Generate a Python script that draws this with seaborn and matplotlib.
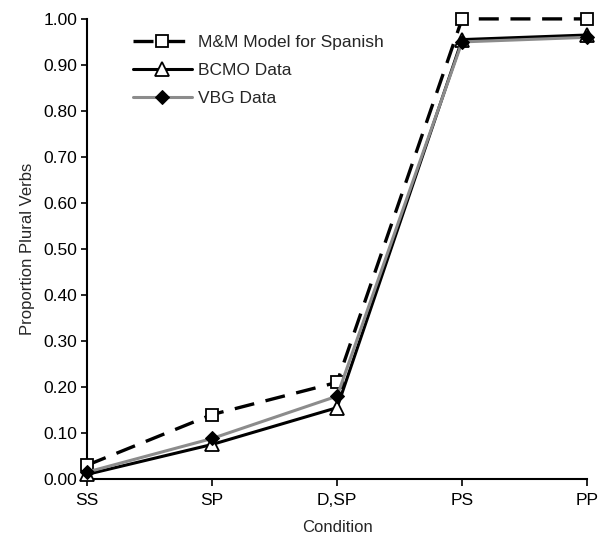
import numpy as np
import pandas as pd
import matplotlib
matplotlib.use("Agg")
import matplotlib.pyplot as plt
import seaborn as sns

conditions = ["SS", "SP", "D,SP", "PS", "PP"]
mm_model = [0.03, 0.14, 0.21, 1.00, 1.00]
bcmo = [0.01, 0.075, 0.155, 0.955, 0.965]
vbg = [0.015, 0.088, 0.18, 0.95, 0.96]

sns.set_style("ticks")
plt.rcParams['font.family'] = ['Liberation Sans', 'DejaVu Sans']

fig = plt.figure(figsize=(6.09, 5.40), dpi=100)
ax = fig.add_axes([0.143, 0.113, 0.821, 0.852])

x = np.arange(len(conditions))
sns.lineplot(x=x, y=mm_model, ax=ax, color="black", linestyle=(0, (6, 3.5)), lw=2.4,
             marker="s", markersize=9, markerfacecolor="white", markeredgecolor="black",
             markeredgewidth=1.3, label="M&M Model for Spanish", clip_on=False, zorder=3)
sns.lineplot(x=x, y=bcmo, ax=ax, color="black", lw=2.2,
             marker="^", markersize=10, markerfacecolor="white", markeredgecolor="black",
             markeredgewidth=1.3, label="BCMO Data", clip_on=False, zorder=3)
sns.lineplot(x=x, y=vbg, ax=ax, color="#8c8c8c", lw=2.2,
             marker="D", markersize=7.5, markerfacecolor="black", markeredgecolor="black",
             label="VBG Data", clip_on=False, zorder=4)

ax.set_xlim(0, 4)
ax.set_ylim(0, 1.0)
ax.set_xticks(x)
ax.set_xticklabels(conditions, fontsize=12.5)
ax.set_yticks(np.arange(0, 1.01, 0.1))
ax.set_yticklabels([f"{v:.2f}" for v in np.arange(0, 1.01, 0.1)], fontsize=12.5)
ax.set_xlabel("Condition", fontsize=12, labelpad=9)
ax.set_ylabel("Proportion Plural Verbs", fontsize=12, labelpad=6)
ax.tick_params(axis="x", length=5, width=1.2, colors="black", pad=5)
ax.tick_params(axis="y", length=4, width=1.2, colors="black", pad=3)
for s in ["left", "bottom"]:
    ax.spines[s].set_linewidth(1.5)
    ax.spines[s].set_color("black")
sns.despine(ax=ax)

leg = ax.legend(loc="upper left", bbox_to_anchor=(0.06, 1.0), frameon=False,
                fontsize=12.5, handlelength=3.4, handletextpad=0.35, labelspacing=0.75)

fig.savefig("out.png", dpi=100)
